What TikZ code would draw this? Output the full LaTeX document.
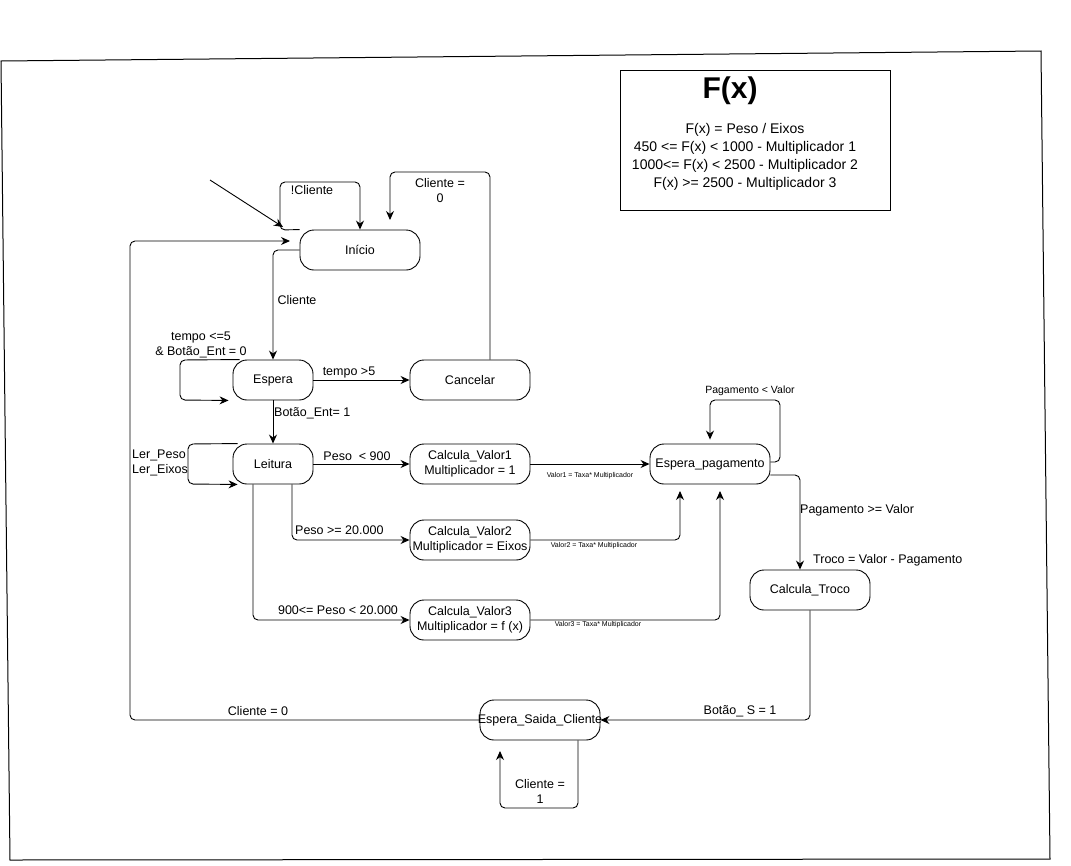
\documentclass[tikz,border=0pt]{standalone}
\usepackage{fontspec}
\setmainfont{Liberation Sans}
\usetikzlibrary{arrows.meta}
\begin{document}
\begin{tikzpicture}[x=1pt,y=-1pt,
  state/.style={draw,line width=0.9pt,rounded corners=14pt,minimum width=120pt,minimum height=40pt,inner sep=0pt,font=\fontsize{12.5}{14.5}\selectfont,align=center},
  lbl/.style={font=\fontsize{12.5}{15}\selectfont,inner sep=0pt,align=center},
  small/.style={font=\fontsize{10.5}{12}\selectfont,inner sep=0pt},
  tinylbl/.style={font=\fontsize{7}{8}\selectfont,inner sep=0pt},
  edge/.style={-{Stealth[length=9pt,width=8pt]},rounded corners=5pt,line width=0.9pt}]
\useasboundingbox (0,0) rectangle (1071,865);
% frame
\draw[line width=1pt] (1,61) -- (1041,51) -- (1050,859) -- (10,860) -- cycle;

% F(x) box
\node[draw,line width=0.9pt,minimum width=270pt,minimum height=140pt,inner sep=0pt] (fx) at (755,140) {};
\node[font=\fontsize{30}{32}\selectfont\bfseries,inner sep=0pt] (fxtitle) at (730,91) {F(x)};
\node[font=\fontsize{14}{18}\selectfont,inner sep=0pt,align=center] (fxbody) at (745,157) {F(x) = Peso / Eixos\\450 <= F(x) < 1000 - Multiplicador 1\\1000<= F(x) < 2500 - Multiplicador 2\\F(x) >= 2500 - Multiplicador 3};

% states
\node[state] (inicio) at (360,250) {Início};
\node[state,minimum width=80pt] (espera) at (273,380) {Espera};
\node[state] (cancelar) at (470,380) {Cancelar};
\node[state,minimum width=80pt] (leitura) at (273,464) {Leitura};
\node[state] (cv1) at (470,464) {Calcula\_Valor1\\Multiplicador = 1};
\node[state] (cv2) at (470,540) {Calcula\_Valor2\\Multiplicador = Eixos};
\node[state] (cv3) at (470,620) {Calcula\_Valor3\\Multiplicador = f (x)};
\node[state] (ep) at (710,464) {Espera\_pagamento};
\node[state] (troco) at (810,590) {Calcula\_Troco};
\node[state] (saida) at (540,720) {\makebox[0pt]{Espera\_Saida\_Cliente}};

% free ends
\coordinate (init) at (210,180);
\coordinate (initend) at (283,227);
\coordinate (cancelend) at (390,220);
\coordinate (ep2end) at (680,491);
\coordinate (ep3end) at (720,491);
\coordinate (retend) at (290,241);
\coordinate (saidaloopend) at (500,751);

% edges
\draw[edge] (init) -- (initend);
\draw[edge] (inicio.north west) -- (280,230) -- (280,182) -- (360,182) -- (inicio.north);
\node[lbl] (lnc) at (312,190) {!Cliente};

\draw[edge] ([xshift=20pt]cancelar.north) -- (490,172) -- (390,172) -- (cancelend);
\node[lbl] (lc0) at (440,191) {Cliente =\\0};

\draw[edge] (inicio.west) -- (273,250) -- (espera.north);
\node[lbl] (lcl) at (297,300) {Cliente};

\draw[edge] ([xshift=7pt]espera.north west) -- (180,360) -- (180,400) -- ([xshift=-4pt]espera.south west);
\node[lbl] (lt5) at (201,345) {tempo <=5\\\& Botão\_Ent = 0};

\draw[edge] (espera.east) -- (cancelar.west);
\node[lbl] (ltg) at (349,372) {tempo >5};

\draw[edge] (espera.south) -- (leitura.north);
\node[lbl,anchor=west] (lbe) at (274,413) {Botão\_Ent= 1};

\draw[edge] ([xshift=5pt]leitura.north west) -- (188,444) -- (188,484) -- ([xshift=5pt]leitura.south west);
\node[lbl,align=left] (lle) at (160,463) {Ler\_Peso\\Ler\_Eixos};

\draw[edge] (leitura.east) -- (cv1.west);
\node[lbl] (lp900) at (357,456) {Peso\ \ < 900};

\draw[edge] ([xshift=19pt]leitura.south) -- (292,540) -- (cv2.west);
\node[lbl,anchor=west] (lp20) at (295,530) {Peso >= 20.000};

\draw[edge] ([xshift=-20pt]leitura.south) -- (253,620) -- (cv3.west);
\node[lbl] (lpm) at (338,610) {900<= Peso < 20.000};

\draw[edge] (cv1.east) -- (ep.west);
\node[tinylbl] (lv1) at (590,476) {Valor1 = Taxa* Multiplicador};

\draw[edge] (cv2.east) -- (680,540) -- (ep2end);
\node[tinylbl] (lv2) at (594,546) {Valor2 = Taxa* Multiplicador};

\draw[edge] (cv3.east) -- (720,620) -- (ep3end);
\node[tinylbl] (lv3) at (598,625) {Valor3 = Taxa* Multiplicador};

\draw[edge,shorten >=4pt] ([yshift=2pt]ep.east) -- (780,462) -- (780,400) -- (710,400) -- (ep.north);
\node[small] (lpv) at (750,391) {Pagamento < Valor};

\draw[edge] ([yshift=-11pt]ep.east) -- (800,475) -- ([xshift=-10pt]troco.north);
\node[lbl,anchor=west] (lpg) at (800,510) {Pagamento >= Valor};
\node[lbl,anchor=west] (ltr) at (813,560) {Troco = Valor - Pagamento};

\draw[edge] (troco.south) -- (810,720) -- (saida.east);
\node[lbl] (lbs) at (740,711) {Botão\_ S = 1};

\draw[edge] (saida.west) -- (130,720) -- (130,241) -- (retend);
\node[lbl] (lc00) at (258,711) {Cliente = 0};

\draw[edge] ([xshift=38pt]saida.south) -- (578,808) -- (500,808) -- (saidaloopend);
\node[lbl] (lc1) at (540,791) {Cliente =\\1};
\end{tikzpicture}
\end{document}
